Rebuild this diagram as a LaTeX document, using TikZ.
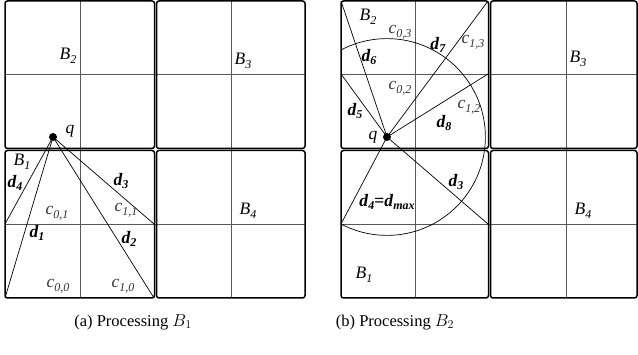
\documentclass[tikz,border=0pt]{standalone}
\usepackage{fontspec}
\setmainfont{Liberation Serif}
\newcommand{\Lab}[2]{\textit{#1}\raisebox{-0.45ex}{\fontsize{12}{13}\selectfont\textit{#2}}}
\newcommand{\BLab}[2]{\textbf{\textit{#1}\raisebox{-0.45ex}{\fontsize{12}{13}\selectfont\textbf{\textit{#2}}}}}
\tikzset{
  blockbox/.style={draw, line width=1.5pt, rounded corners=2.5pt},
  gridline/.style={draw=black!65, line width=0.7pt},
  ray/.style={draw, line width=0.7pt},
  lab/.style={font=\fontsize{17.5}{19}\selectfont, inner sep=0pt},
  clab/.style={font=\fontsize{17.5}{19}\selectfont, inner sep=0pt, text=black!80},
  qdot/.style={circle, fill, inner sep=0pt, minimum size=8pt},
  capt/.style={font=\fontsize{16.5}{18}\selectfont, inner sep=0pt}
}
\begin{document}
\begin{tikzpicture}[x=1pt,y=-1pt]
\useasboundingbox (0,0) rectangle (638,355);
% ---------- (a) ----------
\draw[gridline] (80,1) -- (80,298) (231,1) -- (231,298) (5,74) -- (305,74) (5,224) -- (305,224);
\draw[blockbox] (5,1) rectangle (154.5,148.5);
\draw[blockbox] (156.5,1) rectangle (305,148.5);
\draw[blockbox] (5,150.5) rectangle (154.5,298);
\draw[blockbox] (156.5,150.5) rectangle (305,298);
\node[qdot] (qa) at (53,137) {};
\coordinate (a4) at (5,224);
\coordinate (a1) at (5,298);
\coordinate (a2) at (154,298);
\coordinate (a3) at (154,224);
\draw[ray] (qa.center) -- (a4);
\draw[ray] (qa.center) -- (a1);
\draw[ray] (qa.center) -- (a2);
\draw[ray] (qa.center) -- (a3);
\node[lab] (qla) at (70,131) {\textit{q}};
\node[lab] (b2a) at (68,56) {\Lab{B}{2}};
\node[lab] (b3a) at (243,61) {\Lab{B}{3}};
\node[lab] (b1a) at (22,162) {\Lab{B}{1}};
\node[lab] (b4a) at (248,211) {\Lab{B}{4}};
\node[lab] (d4a) at (15,183) {\BLab{d}{4}};
\node[lab] (d3a) at (121,181) {\BLab{d}{3}};
\node[lab] (d1a) at (37,233) {\BLab{d}{1}};
\node[lab] (d2a) at (129,239) {\BLab{d}{2}};
\node[clab] (c01a) at (57,213) {\Lab{c}{0,1}};
\node[clab] (c11a) at (126,210) {\Lab{c}{1,1}};
\node[clab] (c00a) at (58,286) {\Lab{c}{0,0}};
\node[clab] (c10a) at (123,286) {\Lab{c}{1,0}};
% ---------- (b) ----------
\draw[gridline] (415,1) -- (415,298) (566,1) -- (566,298) (341,74) -- (637,74) (341,224) -- (637,224);
\draw[blockbox] (341,1) rectangle (488.5,148.5);
\draw[blockbox] (490.5,1) rectangle (637,148.5);
\draw[blockbox] (341,150.5) rectangle (488.5,298);
\draw[blockbox] (490.5,150.5) rectangle (637,298);
\node[qdot] (qb) at (387,137) {};
\coordinate (b6) at (341,1);
\coordinate (b7) at (488,1);
\coordinate (b5) at (341,74);
\coordinate (b8) at (488,74);
\coordinate (b3) at (488,224);
\coordinate (b4) at (341,224);
\draw[ray] (qb.center) -- (b6);
\draw[ray] (qb.center) -- (b7);
\draw[ray] (qb.center) -- (b5);
\draw[ray] (qb.center) -- (b8);
\draw[ray] (qb.center) -- (b3);
\draw[ray] (qb.center) -- (b4);
\begin{scope}
\clip (341,0) rectangle (489,300);
\draw[ray] (qb.center) circle[radius=98.4pt];
\end{scope}
\node[lab] (qlb) at (373,137) {\textit{q}};
\node[lab] (b2b) at (368,17) {\Lab{B}{2}};
\node[lab] (b3b) at (578,59) {\Lab{B}{3}};
\node[lab] (b4b) at (583,211) {\Lab{B}{4}};
\node[lab] (b1b) at (364,275) {\Lab{B}{1}};
\node[clab] (c03b) at (400,32) {\Lab{c}{0,3}};
\node[clab] (c13b) at (473,42) {\Lab{c}{1,3}};
\node[clab] (c02b) at (400,88) {\Lab{c}{0,2}};
\node[clab] (c12b) at (469,107) {\Lab{c}{1,2}};
\node[lab] (d7b) at (438,45) {\BLab{d}{7}};
\node[lab] (d6b) at (369,57) {\BLab{d}{6}};
\node[lab] (d5b) at (355,111) {\BLab{d}{5}};
\node[lab] (d8b) at (444,123) {\BLab{d}{8}};
\node[lab] (d3b) at (456,182) {\BLab{d}{3}};
\node[lab] (d4b) at (387,202) {\textbf{\textit{d}\raisebox{-0.45ex}{\fontsize{12}{13}\selectfont\textbf{\textit{4}}}=\textit{d}\raisebox{-0.45ex}{\fontsize{12}{13}\selectfont\textbf{\textit{max}}}}};
% ---------- captions ----------
\node[capt] (capa) at (133,322) {(a) Processing $B_1$};
\node[capt] (capb) at (395,322) {(b) Processing $B_2$};
\end{tikzpicture}
\end{document}
